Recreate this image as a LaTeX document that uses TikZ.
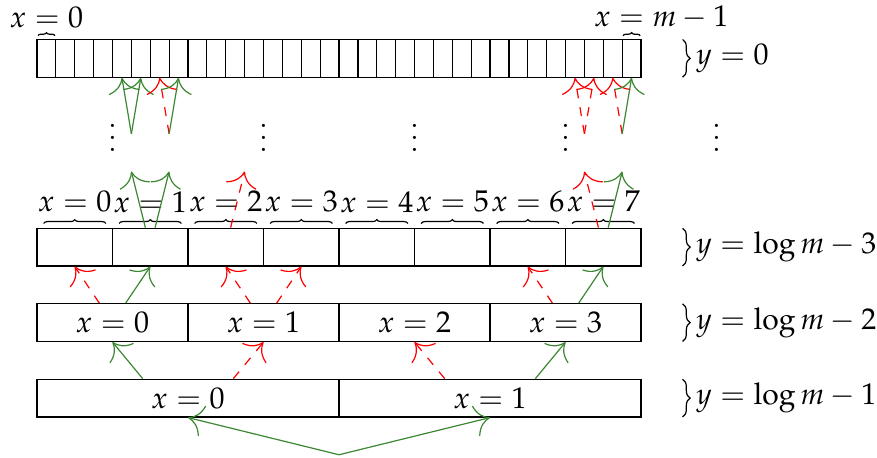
\documentclass[tikz,border=0pt]{standalone}
\usepackage{mathpazo}
\usetikzlibrary{decorations.pathreplacing,arrows.meta}

\definecolor{mygreen}{RGB}{60,135,50}

\begin{document}
\begin{tikzpicture}[x=6.29pt, y=6.29pt,
    cell/.style={draw, inner sep=0pt, minimum height=12.58pt},
    solidup/.style={-{To[scale=2]}, draw=mygreen},
    dashup/.style={-{To[scale=2]}, draw=red, dashed},
    brc/.style={decorate, decoration={brace, amplitude=#1}},
    brc/.default=1.3pt]

    \useasboundingbox (-1.96,-2.17) rectangle (44.5,22.09);

    % Row y = log m - 1
    \foreach \i in {0,1}
        \node[cell, minimum width=100.64pt] (b\i) at ({16*\i+8},1) {$x=\i$};

    % Row y = log m - 2
    \foreach \i in {0,...,3}
        \node[cell, minimum width=50.32pt] (m\i) at ({8*\i+4},5) {$x=\i$};

    % Row y = log m - 3, labels sit above the cells
    \foreach \i in {0,...,7} {
        \node[cell, minimum width=25.16pt] (t\i) at ({4*\i+2},9) {};
        \draw[brc] ({4*\i+0.35},10.25) -- ({4*\i+3.65},10.25);
        \node (lt\i) at ({4*\i+2},11.4) {$x=\i$};
    }

    % Row y = 0 (m cells)
    \foreach \i in {0,...,31}
        \node[cell, minimum width=6.29pt] (c\i) at ({\i+0.5},19) {};
    \draw[brc=1pt] (0.05,20.2) -- (0.95,20.2);
    \draw[brc=1pt] (31.05,20.2) -- (31.95,20.2);
    \node (lx0) at (0.5,21.15) {$x=0$};
    \node (lxm) at (33.07,21.15) {$x=m-1$};

    % Level labels on the right
    \foreach \y/\t in {18/0, 8/\log m-3, 4/\log m-2, 0/\log m-1}
        \draw[brc=2.5pt] (34.2,{\y+2}) -- (34.2,\y) node[midway, right=1pt] (ly\y) {$y=\t$};

    % Skipped levels
    \foreach \x in {4,12,20,28,36}
        \node[anchor=base] (d\x) at (\x,14.05) {$\vdots$};

    % Hidden end points
    \foreach \x in {5,7,11,29,31}
        \coordinate (h\x) at (\x,13);
    \foreach \x in {5,7,29,31}
        \coordinate (s\x) at (\x,15);
    \coordinate (root) at (16,-2);

    % Root to y = log m - 1
    \draw[solidup] (root) -- (b0.south);
    \draw[solidup] (root) -- (b1.south);

    % y = log m - 1 to y = log m - 2
    \draw[solidup] ([xshift=-15.1pt]b0.north) -- (m0.south);
    \draw[dashup] ([xshift=15.1pt]b0.north) -- (m1.south);
    \draw[dashup] ([xshift=-15.1pt]b1.north) -- (m2.south);
    \draw[solidup] ([xshift=15.1pt]b1.north) -- (m3.south);

    % y = log m - 2 to y = log m - 3
    \draw[dashup] (m0) -- (t0.south);
    \draw[solidup] (m0) -- (t1.south);
    \draw[dashup] (m1) -- (t2.south);
    \draw[dashup] (m1) -- (t3.south);
    \draw[dashup] (m3) -- (t6.south);
    \draw[solidup] (m3) -- (t7.south);

    % y = log m - 3 upwards
    \draw[solidup] (t1) -- (h5);
    \draw[solidup] (t1) -- (h7);
    \draw[dashup] (t2) -- (h11);
    \draw[dashup] (t7) -- (h29);
    \draw[solidup] (t7) -- (h31);

    % Up to y = 0
    \draw[solidup] (s5) -- (c4.south);
    \draw[solidup] (s5) -- (c5.south);
    \draw[dashup] (s7) -- (c6.south);
    \draw[solidup] (s7) -- (c7.south);
    \draw[dashup] (s29) -- (c28.south);
    \draw[dashup] (s29) -- (c29.south);
    \draw[dashup] (s31) -- (c30.south);
    \draw[solidup] (s31) -- (c31.south);

\end{tikzpicture}
\end{document}
